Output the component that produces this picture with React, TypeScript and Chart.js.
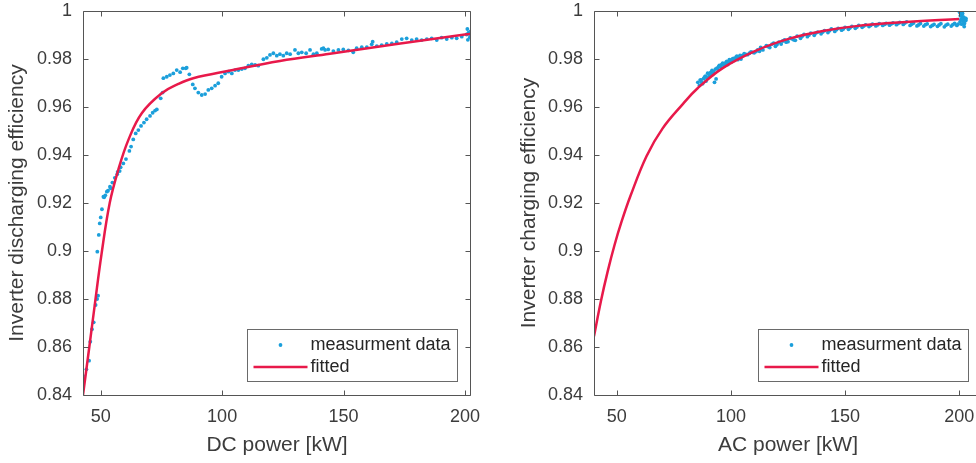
import React, { useEffect, useRef } from "react";
import { Chart, registerables } from "chart.js";

Chart.register(...registerables);

// ---------- data ----------
const Y_TICKS = [0.84, 0.86, 0.88, 0.9, 0.92, 0.94, 0.96, 0.98, 1];
const X_TICKS = [50, 100, 150, 200];
const SERIES_LABELS = ["measurment data", "fitted"];

// Left: discharging (DC power)
const DC_MEAS_X = [
  42.4, 42.7, 44.1, 45.2, 45.7, 46.4, 47.1, 47.9, 48.5, 48.6, 48.9, 49.2, 49.6, 50.0, 50.5,
  51.1, 51.4, 51.9, 52.5, 53.0, 53.8, 54.1, 54.8, 55.8, 56.8, 57.0, 57.8, 58.2, 59.3, 60.4,
  61.8, 62.5, 63.4, 64.4, 65.5, 66.6, 67.8, 68.9, 70.3, 71.4, 72.4, 73.1, 74.7, 75.5, 75.8,
  77.2, 78.5, 79.9, 81.3, 82.7, 83.8, 85.0, 85.4, 86.5, 87.9, 88.8, 90.2, 91.6, 93.0, 94.3,
  95.7, 97.1, 98.4, 99.8, 101.2, 102.6, 104.0, 105.3, 106.7, 108.1, 109.4, 110.8, 112.2, 113.6, 114.9,
  117.0, 118.4, 119.7, 121.1, 122.5, 123.8, 125.2, 126.6, 128.0, 130.0, 131.4, 132.8, 134.6, 136.2, 137.6,
  139.0, 141.0, 141.7, 142.4, 143.7, 145.8, 147.9, 149.9, 152.0, 154.0, 155.4, 157.5, 159.6, 161.6, 162.0,
  163.7, 165.7, 167.8, 169.9, 171.9, 174.0, 176.0, 178.1, 180.1, 182.2, 184.3, 186.3, 188.4, 190.4, 192.5,
  194.6, 196.6, 198.7, 200.7, 201.0, 201.2, 201.5, 201.8, 202.0, 202.3, 202.5,
];
const DC_MEAS_Y = [
  0.8435, 0.848, 0.8507, 0.8543, 0.8622, 0.8674, 0.8703, 0.8775, 0.88, 0.8997, 0.8814, 0.9067, 0.9115, 0.914, 0.9174,
  0.9226, 0.9224, 0.9232, 0.9247, 0.9251, 0.9268, 0.9261, 0.9285, 0.9305, 0.932, 0.933, 0.9333, 0.9349, 0.9365, 0.9383,
  0.9417, 0.9435, 0.9465, 0.949, 0.9504, 0.9521, 0.9535, 0.9549, 0.9563, 0.9576, 0.9585, 0.959, 0.9636, 0.966, 0.972,
  0.9726, 0.9733, 0.974, 0.9754, 0.9745, 0.9761, 0.9761, 0.9764, 0.9736, 0.9694, 0.9678, 0.966, 0.965, 0.9654, 0.9671,
  0.9678, 0.9689, 0.9699, 0.9726, 0.974, 0.9747, 0.974, 0.9754, 0.9754, 0.9758, 0.9761, 0.9772, 0.9778, 0.9775, 0.9772,
  0.9799, 0.9805, 0.9817, 0.9824, 0.9814, 0.982, 0.9814, 0.9824, 0.982, 0.9838, 0.9824, 0.9828, 0.9824, 0.9838, 0.982,
  0.9824, 0.9842, 0.9845, 0.9838, 0.984, 0.9833, 0.9838, 0.984, 0.9836, 0.9828, 0.9845, 0.9849, 0.9849, 0.9861, 0.9872,
  0.9854, 0.9858, 0.9863, 0.9865, 0.987, 0.9883, 0.9886, 0.9879, 0.9883, 0.9879, 0.9883, 0.9886, 0.9879, 0.9889, 0.9883,
  0.9889, 0.9886, 0.9893, 0.9902, 0.9925, 0.988, 0.991, 0.9905, 0.989, 0.9915, 0.9895,
];
const DC_FIT_X = [42.7, 45.3, 47.6, 50.3, 53.7, 57.2, 61.4, 66.9, 75.1, 82.0, 88.1, 103.3, 123.8, 144.4, 171.2, 200.7, 202.5];
const DC_FIT_Y = [0.84, 0.86, 0.878, 0.8985, 0.92, 0.9337, 0.9463, 0.9574, 0.9657, 0.9696, 0.972, 0.9752, 0.9792, 0.9822, 0.9861, 0.9903, 0.9905];

// Right: charging (AC power)
const AC_MEAS_X = [
  85.5, 86.2, 86.9, 87.6, 88.4, 89.1, 89.8, 90.6, 91.3, 92.0, 92.8, 93.5, 94.2, 94.9, 95.7,
  96.4, 97.1, 97.9, 98.6, 99.3, 100.1, 100.8, 101.5, 102.2, 103.0, 103.7, 104.4, 105.1, 106.6, 108.1,
  109.5, 111.0, 112.5, 113.0, 114.0, 115.5, 117.0, 118.0, 119.5, 121.0, 122.0, 123.5, 125.0, 126.0, 127.5,
  129.0, 130.5, 132.0, 133.5, 135.0, 136.5, 138.0, 139.5, 141.0, 142.5, 144.0, 145.5, 147.0, 148.5, 150.0,
  151.5, 153.0, 154.5, 156.0, 157.5, 159.0, 160.5, 162.0, 163.5, 165.0, 166.5, 168.0, 169.5, 171.0, 172.5,
  174.0, 175.5, 177.0, 178.5, 180.0, 181.5, 183.0, 184.5, 186.0, 187.5, 189.0, 190.5, 192.0, 193.5, 195.0,
  196.5, 198.0, 199.0, 200.2, 200.4, 200.5, 200.8, 201.0, 201.1, 201.3, 201.5, 201.6, 201.8, 202.0, 202.2,
  202.3, 202.6, 202.9, 203.0,
  86.5, 87.2, 88.0, 88.8, 89.5, 90.2, 91.0, 91.7, 92.4, 93.2, 93.9, 94.6, 95.3, 96.0, 96.8,
  97.5, 98.2, 99.0, 99.7, 100.4, 101.1, 101.9, 102.6, 103.3, 104.0, 104.8, 105.8, 107.3, 108.8, 110.2,
  111.7, 113.5, 116.2, 118.7, 120.2, 122.7, 124.2, 126.7, 128.2, 131.2, 134.2, 137.2, 140.2, 143.2, 146.2,
  149.2, 152.2, 155.2, 158.2, 161.2, 164.2, 167.2, 170.2, 173.2, 176.2, 179.2, 182.2, 185.2, 188.2, 191.2,
  194.2, 197.2, 199.5,
];
const AC_MEAS_Y = [
  0.9703, 0.969, 0.9713, 0.9697, 0.9724, 0.9708, 0.9741, 0.9731, 0.9745, 0.9735, 0.9703, 0.9717, 0.9759, 0.9773, 0.9766,
  0.9783, 0.9773, 0.9787, 0.9777, 0.9797, 0.9787, 0.98, 0.9794, 0.9808, 0.9797, 0.981, 0.98, 0.9815, 0.9819, 0.9824,
  0.9828, 0.9831, 0.9832, 0.9848, 0.9838, 0.9856, 0.9848, 0.9862, 0.9853, 0.987, 0.9862, 0.988, 0.9872, 0.9888, 0.988,
  0.9895, 0.9886, 0.9902, 0.9893, 0.9908, 0.9899, 0.9912, 0.9905, 0.9918, 0.991, 0.9925, 0.9915, 0.9928, 0.992, 0.9932,
  0.9924, 0.9936, 0.9928, 0.994, 0.9932, 0.9942, 0.9935, 0.9945, 0.9938, 0.9947, 0.994, 0.9948, 0.9941, 0.995, 0.9943,
  0.9952, 0.9944, 0.9955, 0.994, 0.995, 0.9938, 0.9948, 0.9937, 0.9946, 0.9935, 0.9944, 0.9936, 0.9947, 0.9934, 0.9945,
  0.9937, 0.9948, 0.994, 0.9995, 0.9955, 0.998, 0.9965, 0.9985, 0.9945, 0.997, 0.999, 0.996, 0.9975, 0.9955, 0.9935,
  0.9948, 0.997, 0.996, 0.9968,
  0.9712, 0.9702, 0.9718, 0.9729, 0.9722, 0.9738, 0.9742, 0.9752, 0.9748, 0.9758, 0.9762, 0.9768, 0.9772, 0.9778, 0.9776,
  0.9782, 0.979, 0.9786, 0.9793, 0.9798, 0.9803, 0.98, 0.9812, 0.9806, 0.9815, 0.9812, 0.9822, 0.9818, 0.983, 0.9826,
  0.9838, 0.9842, 0.9852, 0.9866, 0.986, 0.9875, 0.987, 0.9884, 0.9878, 0.9895, 0.99, 0.9908, 0.9912, 0.9918, 0.9922,
  0.9925, 0.993, 0.9933, 0.9937, 0.994, 0.9942, 0.9944, 0.9946, 0.9948, 0.995, 0.9945, 0.9942, 0.9943, 0.994, 0.9942,
  0.9941, 0.9943, 0.9945,
];
const AC_FIT_X = [40, 43, 46, 49, 52, 56, 63, 70, 79, 85.4, 96.4, 111, 125.6, 140.2, 154.8, 176.7, 200];
const AC_FIT_Y = [0.8645, 0.879, 0.8915, 0.9025, 0.912, 0.923, 0.9395, 0.951, 0.9613, 0.9678, 0.9762, 0.9835, 0.9885, 0.9917, 0.9937, 0.9954, 0.9967];

// ---------- styles ----------
const FONT = "'Liberation Sans', Arial, Helvetica, sans-serif";
const TEXT_COLOR = "#3c3c3c";
const AXIS_COLOR = "#555555";
const BLUE = "#1b9fdb";
const RED = "#e8194a";

const zip = (xs: number[], ys: number[]) => xs.map((x, i) => ({ x, y: ys[i] }));

const framePlugin = {
  id: "frameAndLegend",
  afterDatasetsDraw(chart: any) {
    const { ctx, chartArea: a, scales } = chart;
    const xs = scales.x;
    const ys = scales.y;
    const L = Math.floor(a.left) + 0.5;
    const R = Math.floor(a.right) - 0.5;
    const T = Math.floor(a.top) + 0.5;
    const B = Math.floor(a.bottom) + 0.5;
    ctx.save();
    ctx.strokeStyle = AXIS_COLOR;
    ctx.lineWidth = 1;
    ctx.beginPath();
    ctx.rect(L, T, R - L, B - T);
    ctx.stroke();
    const tl = 5;
    ctx.beginPath();
    for (const v of X_TICKS) {
      const px = Math.round(xs.getPixelForValue(v)) + 0.5;
      ctx.moveTo(px, B);
      ctx.lineTo(px, B - tl);
      ctx.moveTo(px, T);
      ctx.lineTo(px, T + tl);
    }
    for (const v of Y_TICKS) {
      const py = Math.round(ys.getPixelForValue(v)) + 0.5;
      ctx.moveTo(L, py);
      ctx.lineTo(L + tl, py);
      ctx.moveTo(R, py);
      ctx.lineTo(R - tl, py);
    }
    ctx.stroke();

    // legend box
    const bw = 210;
    const bh = 52;
    const bx = Math.floor(a.right) - 14 - bw + 0.5;
    const by = Math.floor(a.bottom) - 14 - bh + 0.5;
    ctx.fillStyle = "#ffffff";
    ctx.fillRect(bx, by, bw, bh);
    ctx.strokeStyle = "#6a6a6a";
    ctx.strokeRect(bx, by, bw, bh);
    const ds = chart.data.datasets;
    const r1 = by + 15.5;
    const r2 = by + 37.5;
    ctx.fillStyle = ds[0].backgroundColor;
    ctx.beginPath();
    ctx.arc(bx + 33, r1, 1.9, 0, Math.PI * 2);
    ctx.fill();
    ctx.strokeStyle = ds[1].borderColor;
    ctx.lineWidth = 2.5;
    ctx.beginPath();
    ctx.moveTo(bx + 6, r2);
    ctx.lineTo(bx + 60, r2);
    ctx.stroke();
    ctx.fillStyle = "#262626";
    ctx.font = `18px ${FONT}`;
    ctx.textBaseline = "middle";
    ctx.textAlign = "left";
    ctx.fillText(ds[0].label, bx + 63, r1);
    ctx.fillText(ds[1].label, bx + 63, r2);
    ctx.restore();
  },
};

type Cfg = {
  measX: number[];
  measY: number[];
  fitX: number[];
  fitY: number[];
  xMin: number;
  xMax: number;
  xTitle: string;
  yTitle: string;
  yWidth: number;
  yTitlePad: number;
  padRight: number;
};

function makeConfig(c: Cfg): any {
  return {
    type: "scatter",
    data: {
      datasets: [
        {
          label: SERIES_LABELS[0],
          data: zip(c.measX, c.measY),
          backgroundColor: BLUE,
          borderWidth: 0,
          pointRadius: 1.9,
          showLine: false,
          order: 2,
        },
        {
          label: SERIES_LABELS[1],
          data: zip(c.fitX, c.fitY),
          borderColor: RED,
          backgroundColor: RED,
          borderWidth: 2.5,
          pointRadius: 0,
          showLine: true,
          tension: 0.4,
          order: 1,
        },
      ],
    },
    options: {
      animation: false,
      responsive: false,
      maintainAspectRatio: false,
      layout: { autoPadding: false, padding: { top: 11, right: c.padRight, left: 0, bottom: 0 } },
      plugins: { legend: { display: false }, tooltip: { enabled: false } },
      scales: {
        x: {
          type: "linear",
          min: c.xMin,
          max: c.xMax,
          grid: { display: false, drawTicks: false },
          border: { display: false },
          afterBuildTicks: (s: any) => {
            s.ticks = X_TICKS.map((v) => ({ value: v }));
          },
          afterFit: (s: any) => {
            s.height = 68;
            s.paddingLeft = 0;
            s.paddingRight = 0;
          },
          ticks: {
            padding: 11,
            color: TEXT_COLOR,
            font: { family: FONT, size: 18 },
            maxRotation: 0,
            autoSkip: false,
            callback: (v: number) => String(v),
          },
          title: {
            display: true,
            text: c.xTitle,
            color: TEXT_COLOR,
            font: { family: FONT, size: 21 },
            padding: { top: 0, bottom: 5 },
          },
        },
        y: {
          type: "linear",
          min: 0.84,
          max: 1,
          grid: { display: false, drawTicks: false },
          border: { display: false },
          afterBuildTicks: (s: any) => {
            s.ticks = Y_TICKS.map((v) => ({ value: v }));
          },
          afterFit: (s: any) => {
            s.width = c.yWidth;
            s.paddingTop = 0;
            s.paddingBottom = 0;
          },
          ticks: {
            padding: 11,
            color: TEXT_COLOR,
            font: { family: FONT, size: 18 },
            autoSkip: false,
            callback: (v: number) => String(Number(v.toFixed(2))),
          },
          title: {
            display: true,
            text: c.yTitle,
            color: TEXT_COLOR,
            font: { family: FONT, size: 21 },
            padding: { top: c.yTitlePad, bottom: 0 },
          },
        },
      },
    },
    plugins: [framePlugin],
  };
}

function ChartCanvas({ cfg, left, width }: { cfg: Cfg; left: number; width: number }) {
  const ref = useRef<HTMLCanvasElement | null>(null);
  useEffect(() => {
    if (!ref.current) return;
    const chart = new Chart(ref.current, makeConfig(cfg));
    return () => chart.destroy();
  }, []);
  return (
    <canvas
      ref={ref}
      width={width}
      height={463}
      style={{ position: "absolute", left, top: 0, width, height: 463 }}
    />
  );
}

const LEFT_CFG: Cfg = {
  measX: DC_MEAS_X,
  measY: DC_MEAS_Y,
  fitX: DC_FIT_X,
  fitY: DC_FIT_Y,
  xMin: 42.7,
  xMax: 202.5,
  xTitle: "DC power [kW]",
  yTitle: "Inverter discharging efficiency",
  yWidth: 83,
  yTitlePad: 5,
  padRight: 17,
};

const RIGHT_CFG: Cfg = {
  measX: AC_MEAS_X,
  measY: AC_MEAS_Y,
  fitX: AC_FIT_X,
  fitY: AC_FIT_Y,
  xMin: 40,
  xMax: 210,
  xTitle: "AC power [kW]",
  yTitle: "Inverter charging efficiency",
  yWidth: 106,
  yTitlePad: 29,
  padRight: 6,
};

export default function App() {
  return (
    <div
      style={{
        position: "fixed",
        left: 0,
        top: 0,
        width: 976,
        height: 463,
        overflow: "hidden",
        background: "#ffffff",
      }}
    >
      <ChartCanvas cfg={LEFT_CFG} left={0} width={488} />
      <ChartCanvas cfg={RIGHT_CFG} left={488} width={500} />
    </div>
  );
}
